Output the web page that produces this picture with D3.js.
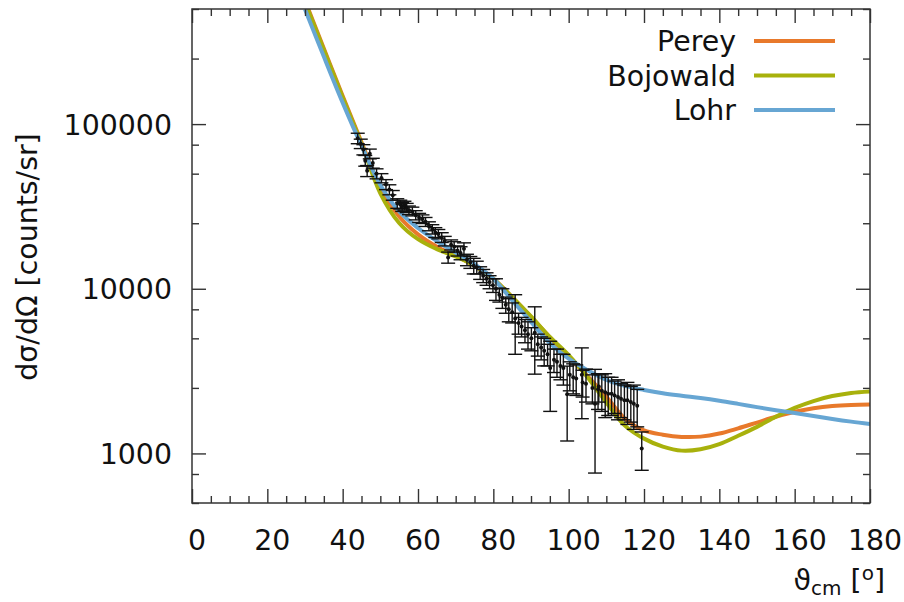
<!DOCTYPE html>
<html>
<head>
<meta charset="utf-8">
<script src="https://cdn.jsdelivr.net/npm/d3@7"></script>
<style>
  body { margin: 0; background: #fff; }
  svg { display: block; font-family: "DejaVu Sans", sans-serif; }
</style>
</head>
<body>
<svg id="chart" width="904" height="602"></svg>
<script>
// ---- data ----
const modelTheta = [30,35,40,45,50,55,60,65,70,75,80,85,90,95,100,105,110,115,120,125,130,135,140,145,150,155,160,165,170,175,180];
const pereyValues = [562000,288000,148000,77600,41200,27500,21400,18000,15850,13800,11500,8900,6760,5070,3850,2950,2210,1620,1380,1300,1260,1265,1320,1420,1540,1670,1790,1880,1940,1970,1980];
const bojowaldValues = [550000,282000,145000,76000,38000,25100,20000,17400,15700,13800,11500,8900,6800,5100,3950,2900,2040,1470,1230,1100,1040,1060,1140,1280,1450,1670,1890,2080,2230,2330,2380];
const lohrValues = [498000,257000,135000,74000,42700,29500,23400,19500,16600,14100,11500,8500,6300,4680,3760,3200,2800,2570,2430,2320,2240,2170,2090,2000,1910,1830,1760,1690,1620,1560,1510];

const dataTheta = [44.0,44.8,45.5,46.0,46.5,47.2,48.0,49.0,50.3,51.5,52.4,53.3,54.5,55.3,55.8,56.4,57.0,57.6,58.5,59.4,60.3,61.2,62.0,62.9,63.8,64.6,65.4,66.3,67.1,68.0,68.8,69.6,70.5,71.3,72.2,73.0,73.9,74.8,75.6,76.5,77.3,78.2,79.0,79.9,80.7,81.6,82.4,83.3,84.1,85.0,85.8,86.7,87.5,88.4,89.2,90.1,91.0,91.8,92.7,93.5,94.4,95.1,96.1,96.9,97.8,98.6,99.6,100.3,101.2,102.0,103.5,103.7,104.6,107.0,106.3,107.8,108.0,108.8,109.7,110.5,111.4,112.2,113.1,113.9,114.8,115.6,116.5,117.3,118.2,119.4];
const dataValue = [82000,76000,70000,60000,52000,66000,58000,50000,47000,43000,40000,37000,33000,32500,31500,32000,31000,30000,29500,28000,27000,26500,25500,24000,23000,22000,21500,20500,19500,15500,18500,18000,17000,16500,17500,15000,14500,13800,13500,12500,12000,11500,11000,10500,10000,9200,8800,8000,7500,7200,6600,6200,5900,5600,5300,5000,5400,4600,4400,4200,4000,3300,3700,3600,3400,3300,2290,3000,2900,2850,3000,2700,2650,2000,2500,2450,2550,2400,2350,2300,2300,2250,2200,2150,2100,2100,2050,2000,1950,1070];
const dataError = [6000,5000,5000,4500,4000,4500,4000,3500,3000,3000,2800,2500,2200,2000,2000,2000,2000,1800,1800,1800,1700,1600,1600,1500,1500,1500,1400,1400,1300,1200,1300,1300,1200,1500,1500,1200,1200,1500,1200,1100,1100,1000,1000,1000,1500,900,1200,900,1200,1000,2600,900,800,900,1000,800,2370,700,700,800,600,1500,600,700,600,700,1100,600,600,600,1375,500,600,1240,500,600,500,600,700,600,600,500,600,500,500,600,500,600,500,280];

const xTicks = [0,20,40,60,80,100,120,140,160,180];
const yTicks = [1000,10000,100000];
const yMinorTicks = [500,750,2500,5000,7500,25000,50000,75000,250000,500000];

const seriesNames = ["Perey","Bojowald","Lohr"];
const seriesColors = ["#e8792b","#a8b10c","#67a6d3"];

// ---- layout ----
const L = 192, R = 870, T = 9, B = 503;
const svg = d3.select("#chart");
const x = d3.scaleLinear().domain([0,180]).range([L,R]);
const y = d3.scaleLog().domain([500,500000]).range([B,T]);
const axisColor = "#333";

svg.append("defs").append("clipPath").attr("id","clip")
  .append("rect").attr("x",L).attr("y",T).attr("width",R-L).attr("height",B-T);

// curves
const series = [pereyValues, bojowaldValues, lohrValues];
const line = d3.line().x(d=>x(d[0])).y(d=>y(d[1])).curve(d3.curveCatmullRom.alpha(0.5));
const gCurves = svg.append("g").attr("clip-path","url(#clip)");
series.forEach((vals,i)=>{
  gCurves.append("path")
    .attr("d", line(modelTheta.map((t,j)=>[t,vals[j]])))
    .attr("fill","none").attr("stroke",seriesColors[i]).attr("stroke-width",4)
    .attr("stroke-linejoin","round");
});

// data with error bars
const gData = svg.append("g").attr("clip-path","url(#clip)");
const capW = 7;
dataTheta.forEach((t,i)=>{
  const v = dataValue[i], e = dataError[i];
  const cx = x(t);
  const y1 = y(Math.max(v-e, 1)), y2 = y(v+e);
  gData.append("line").attr("x1",cx).attr("x2",cx).attr("y1",y1).attr("y2",y2)
    .attr("stroke","#111").attr("stroke-width",1.4);
  [y1,y2].forEach(yy=>{
    gData.append("line").attr("x1",cx-capW).attr("x2",cx+capW).attr("y1",yy).attr("y2",yy)
      .attr("stroke","#111").attr("stroke-width",1.4);
  });
  gData.append("circle").attr("cx",cx).attr("cy",y(v)).attr("r",2).attr("fill","#111");
});

// axes: frame + ticks using d3 axis generators
const fontSize = 28.4;
function styleAxis(g){ g.select(".domain").remove(); g.selectAll("line").attr("stroke",axisColor).attr("stroke-width",1.4); }

// bottom
const xMinor = d3.range(0,181,5).filter(v=>v%20!==0);
svg.append("g").attr("transform",`translate(0,${B})`)
  .call(d3.axisTop(x).tickValues(xMinor).tickSize(7).tickFormat(""))
  .call(styleAxis);
const gx = svg.append("g").attr("transform",`translate(0,${B})`)
  .call(d3.axisTop(x).tickValues(xTicks).tickSize(14).tickFormat(d3.format("d")))
  .call(styleAxis);
gx.selectAll("text").attr("y",47).attr("dx",4.5).attr("dy",0)
  .attr("font-size",fontSize).attr("font-family","DejaVu Sans").attr("fill","#111");
// top
svg.append("g").attr("transform",`translate(0,${T})`)
  .call(d3.axisBottom(x).tickValues(xMinor).tickSize(7).tickFormat("")).call(styleAxis);
svg.append("g").attr("transform",`translate(0,${T})`)
  .call(d3.axisBottom(x).tickValues(xTicks).tickSize(14).tickFormat("")).call(styleAxis);

// left
svg.append("g").attr("transform",`translate(${L},0)`)
  .call(d3.axisRight(y).tickValues(yMinorTicks).tickSize(7).tickFormat("")).call(styleAxis);
const gy = svg.append("g").attr("transform",`translate(${L},0)`)
  .call(d3.axisRight(y).tickValues(yTicks).tickSize(14).tickFormat(d3.format("d")))
  .call(styleAxis);
gy.selectAll("text").attr("x",-20).attr("text-anchor","end").attr("dy","0.35em")
  .attr("font-size",fontSize).attr("font-family","DejaVu Sans").attr("fill","#111");
// right
svg.append("g").attr("transform",`translate(${R},0)`)
  .call(d3.axisLeft(y).tickValues(yMinorTicks).tickSize(7).tickFormat("")).call(styleAxis);
svg.append("g").attr("transform",`translate(${R},0)`)
  .call(d3.axisLeft(y).tickValues(yTicks).tickSize(14).tickFormat("")).call(styleAxis);

// frame
svg.append("rect").attr("x",L).attr("y",T).attr("width",R-L).attr("height",B-T)
  .attr("fill","none").attr("stroke",axisColor).attr("stroke-width",1.5);

// legend
const legY = [41,75.5,110];
seriesNames.forEach((n,i)=>{
  svg.append("text").attr("x",736).attr("y",legY[i]+10).attr("text-anchor","end")
    .attr("font-size",fontSize).attr("fill","#111").text(n);
  svg.append("line").attr("x1",754).attr("x2",835).attr("y1",legY[i]).attr("y2",legY[i])
    .attr("stroke",seriesColors[i]).attr("stroke-width",4);
});

// axis titles
svg.append("text").attr("transform","translate(37,257) rotate(-90)")
  .attr("text-anchor","middle").attr("font-size",fontSize).attr("fill","#111")
  .text("dσ/dΩ [counts/sr]");
const xt = svg.append("text").attr("x",885).attr("y",590).attr("text-anchor","end")
  .attr("font-size",fontSize).attr("fill","#111");
xt.append("tspan").text("ϑ");
xt.append("tspan").attr("font-size",20).attr("dy",5).text("cm");
xt.append("tspan").attr("dy",-5).text(" [");
xt.append("tspan").attr("font-size",20).attr("dy",-10).text("o");
xt.append("tspan").attr("dy",10).text("]");
</script>
</body>
</html>
